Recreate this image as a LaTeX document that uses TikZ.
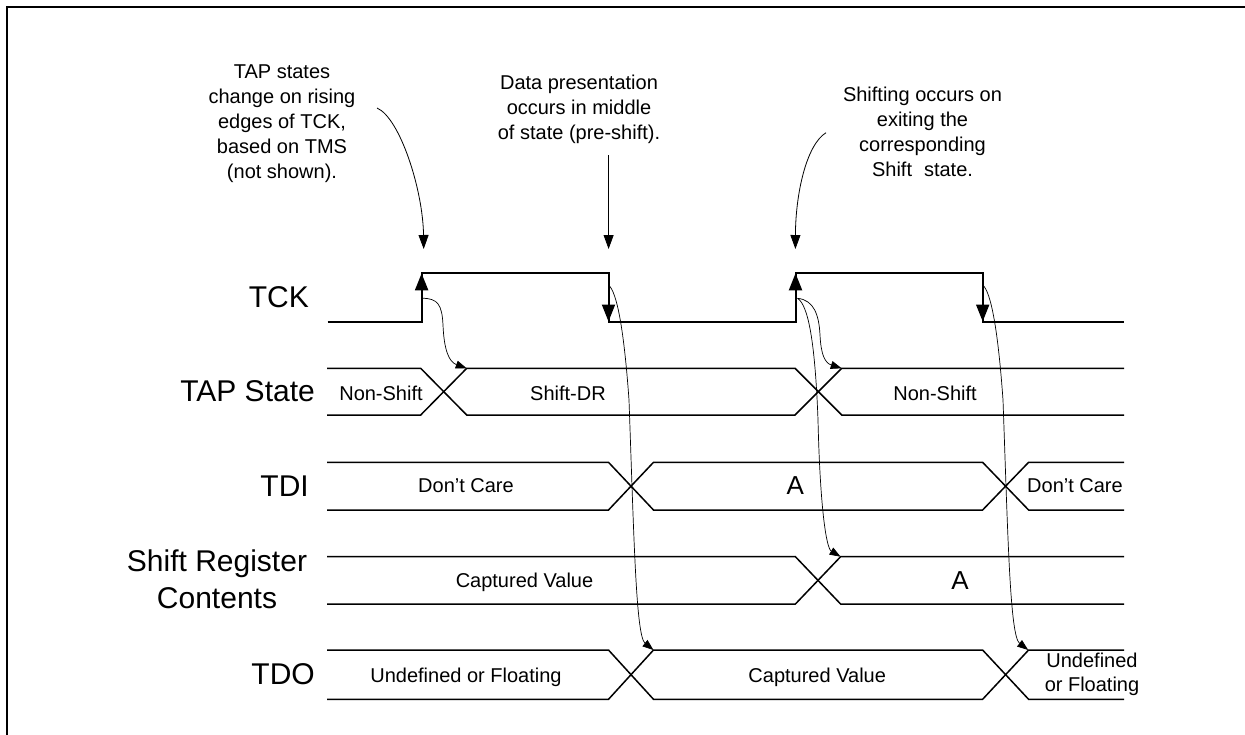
\documentclass[tikz,border=0pt]{standalone}
\usepackage{fontspec}
\setmainfont{Liberation Sans}
\usetikzlibrary{arrows.meta}
\tikzset{
  frameline/.style={line width=2pt},
  sig/.style={line width=1.5pt, line join=miter},
  clk/.style={line width=2pt},
  edgearrow/.style={line width=2pt, -{Triangle[length=17pt,width=13pt]}},
  cause/.style={line width=0.7pt, -{Triangle[length=11pt,width=8pt]}},
  notearrow/.style={line width=0.8pt, -{Triangle[length=14pt,width=10pt]}},
  lbl/.style={font=\fontsize{30}{37}\selectfont, inner sep=0pt},
  ann/.style={font=\fontsize{20}{25}\selectfont, align=center, inner sep=0pt, anchor=north},
  val/.style={font=\fontsize{20}{24}\selectfont, inner sep=0pt, anchor=base},
  bigval/.style={font=\fontsize{26}{30}\selectfont, inner sep=0pt, anchor=base}
}
\begin{document}
\begin{tikzpicture}[x=1pt,y=-1pt]
\useasboundingbox (0,0) rectangle (1245,734);
% frame
\draw[frameline] (7,736) -- (7,7) -- (1247,7);

% ---------- signal labels ----------
\node[lbl, anchor=base east] (ltck) at (309,307) {TCK};
\node[lbl, anchor=base east] (ltap) at (315,401) {TAP State};
\node[lbl, anchor=base east] (ltdi) at (309,496) {TDI};
\node[lbl, anchor=north, align=center] (lsr) at (217,550) {Shift Register\\Contents};
\node[lbl, anchor=base east] (ltdo) at (315,684) {TDO};

% ---------- TCK ----------
\draw[clk] (327.5,321.5) -- (421.6,321.5) -- (421.6,273.3) -- (608.5,273.3) -- (608.5,321.5)
  -- (795.5,321.5) -- (795.5,273.3) -- (982.7,273.3) -- (982.7,321.5) -- (1124,321.5);
\coordinate (r1b) at (421.6,300);  \coordinate (r1t) at (421.6,273.3);
\coordinate (f1t) at (608.5,295);  \coordinate (f1b) at (608.5,321.5);
\coordinate (r2b) at (795.5,300);  \coordinate (r2t) at (795.5,273.3);
\coordinate (f2t) at (982.7,295);  \coordinate (f2b) at (982.7,321.5);
\draw[edgearrow] (r1b) -- (r1t);
\draw[edgearrow] (f1t) -- (f1b);
\draw[edgearrow] (r2b) -- (r2t);
\draw[edgearrow] (f2t) -- (f2b);

% ---------- TAP State ----------
\draw[sig] (327,368.3) -- (420.7,368.3) -- (466.7,415) -- (795,415) -- (841.7,368.3) -- (1124,368.3);
\draw[sig] (327,415) -- (420.7,415) -- (466.7,368.3) -- (795,368.3) -- (841.7,415) -- (1124,415);
\node[val] (tap1) at (381,400) {Non-Shift};
\node[val] (tap2) at (568,400) {Shift-DR};
\node[val] (tap3) at (935,400) {Non-Shift};

% ---------- TDI ----------
\draw[sig] (327,462.3) -- (608.5,462.3) -- (653.5,510) -- (982.6,510) -- (1028.6,462.3) -- (1124,462.3);
\draw[sig] (327,510) -- (608.5,510) -- (653.5,462.3) -- (982.6,462.3) -- (1028.6,510) -- (1124,510);
\node[val] (tdi1) at (466,492) {Don’t Care};
\node[bigval] (tdi2) at (795.4,494) {A};
\node[val] (tdi3) at (1075,492) {Don’t Care};

% ---------- Shift Register ----------
\draw[sig] (327,556.7) -- (795.4,556.7) -- (840.6,604) -- (1124,604);
\draw[sig] (327,604) -- (795.4,604) -- (840.6,556.7) -- (1124,556.7);
\node[val] (sr1) at (524.5,587) {Captured Value};
\node[bigval] (sr2) at (960,589) {A};

% ---------- TDO ----------
\draw[sig] (327,650) -- (608.5,650) -- (653.5,699.3) -- (982.6,699.3) -- (1028.6,650) -- (1124,650);
\draw[sig] (327,699.3) -- (608.5,699.3) -- (653.5,650) -- (982.6,650) -- (1028.6,699.3) -- (1124,699.3);
\node[val] (tdo1) at (466,682) {Undefined or Floating};
\node[val] (tdo2) at (817.2,682) {Captured Value};
\node[font=\fontsize{20}{24}\selectfont, inner sep=0pt, align=center] (tdo3) at (1092,674.5) {Undefined\\or Floating};

% ---------- cause/effect curves ----------
\coordinate (r1s) at (421.7,298.3);
\coordinate (tapx1) at (466.7,368.3);
\coordinate (f1s) at (608.5,285);
\coordinate (tdox1) at (653.5,650);
\coordinate (r2s) at (797.5,298.3);
\coordinate (tapx2) at (841.7,368.3);
\coordinate (srx) at (840.6,556.7);
\coordinate (f2s) at (982.7,285);
\coordinate (tdox2) at (1028.2,650);

\draw[cause] (r1s) .. controls (438,298) and (442,305) .. (443,325)
  .. controls (444,350) and (449,362) .. (tapx1);
\draw[cause] (f1s) .. controls (617,292) and (624,330) .. (629,400)
  .. controls (634,540) and (636,636) .. (tdox1);
\draw[cause] (r2s) .. controls (814,300) and (819,315) .. (820,335)
  .. controls (821,355) and (825,363) .. (tapx2);
\draw[cause] (r2s) .. controls (808,305) and (815,340) .. (818,420)
  .. controls (820,505) and (826,548) .. (srx);
\draw[cause] (f2s) .. controls (991,292) and (998,330) .. (1003,400)
  .. controls (1008,540) and (1010,636) .. (tdox2);

% ---------- annotations ----------
\node[ann] (n1) at (282,65) {TAP states\\change on rising\\edges of TCK,\\based on TMS\\(not shown).};
\node[ann] (n2) at (579,75) {Data presentation\\occurs in middle\\of state (pre-shift).};
\node[ann] (n3) at (922.5,86.5) {Shifting occurs on\\exiting the\\corresponding\\Shift\hspace{0.6em}state.};

\coordinate (a1s) at (377,108);  \coordinate (a1e) at (423.7,249);
\coordinate (a2s) at (608.6,155); \coordinate (a2e) at (608.6,249);
\coordinate (a3s) at (826,132.7); \coordinate (a3e) at (795.4,249);
\draw[notearrow] (a1s) .. controls (400,118) and (423,190) .. (a1e);
\draw[notearrow] (a2s) -- (a2e);
\draw[notearrow] (a3s) .. controls (806,145) and (795.5,195) .. (a3e);
\end{tikzpicture}
\end{document}
